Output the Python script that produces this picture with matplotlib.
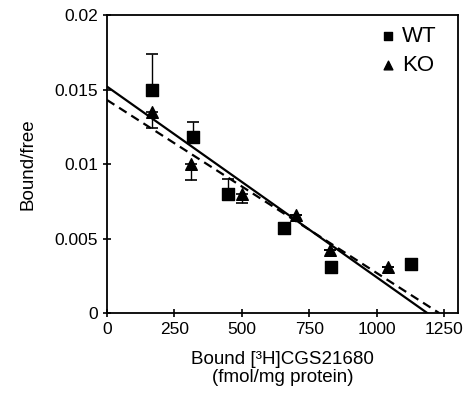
import matplotlib
matplotlib.use("Agg")
import matplotlib.pyplot as plt
import numpy as np

plt.rcParams["font.family"] = ["Liberation Sans", "DejaVu Sans"]

# --- data ---
wt_x = [166, 318, 447, 655, 832, 1128]
wt_y = [0.0150, 0.0118, 0.0080, 0.0057, 0.0031, 0.0033]
wt_err_up = [0.0024, 0.0010, 0.0010, 0.0, 0.0, 0.0]

ko_x = [167, 311, 499, 702, 828, 1043]
ko_y = [0.0135, 0.0100, 0.0080, 0.0066, 0.0042, 0.0031]
ko_err_down = [0.0011, 0.0011, 0.0006, 0.0, 0.0, 0.0]

# Scatchard fits: (intercept, x-intercept)
wt_fit = (0.0152, 1187)
ko_fit = (0.0143, 1231)

xticks = [0, 250, 500, 750, 1000, 1250]
yticks = [0, 0.005, 0.01, 0.015, 0.02]
ytick_labels = ["0", "0.005", "0.01", "0.015", "0.02"]

fig = plt.figure(figsize=(4.71, 4.05), dpi=100)
ax = fig.add_axes([0.227, 0.227, 0.745, 0.736])

# fit lines
for (b0, xint), ls in [(wt_fit, "-"), (ko_fit, (0, (4, 2.5)))]:
    xs = np.array([0, xint])
    ax.plot(xs, b0 - b0 / xint * xs, color="black", lw=1.6, ls=ls, zorder=2)

# error bars
ax.errorbar(wt_x, wt_y, yerr=[np.zeros(len(wt_x)), wt_err_up], fmt="none",
            ecolor="black", elinewidth=1.0, capsize=4, capthick=1.2, zorder=3)
ax.errorbar(ko_x, ko_y, yerr=[ko_err_down, np.zeros(len(ko_x))], fmt="none",
            ecolor="black", elinewidth=1.0, capsize=4, capthick=1.2, zorder=3)

ax.scatter(wt_x, wt_y, marker="s", s=70, color="black", zorder=4, label="WT")
ax.scatter(ko_x, ko_y, marker="^", s=70, color="black", zorder=4, label="KO")

ax.set_xlim(0, 1300)
ax.set_ylim(0, 0.02)
ax.set_xticks(xticks)
ax.set_yticks(yticks)
ax.set_yticklabels(ytick_labels)
ax.tick_params(direction="inout", length=6, width=1.2, labelsize=12.5)
for sp in ax.spines.values():
    sp.set_linewidth(1.3)

ax.set_ylabel("Bound/free", fontsize=13.5, labelpad=13)
ax.set_xlabel("Bound [\u00b3H]CGS21680\n(fmol/mg protein)", fontsize=13.5,
              labelpad=10, linespacing=1.05)

ax.legend(loc="upper right", bbox_to_anchor=(0.985, 1.015), frameon=False,
          fontsize=16, handletextpad=0.05, handlelength=1.2,
          borderaxespad=0.3, labelspacing=0.35, scatterpoints=1,
          markerscale=0.75)

fig.savefig("out.png", dpi=100)
